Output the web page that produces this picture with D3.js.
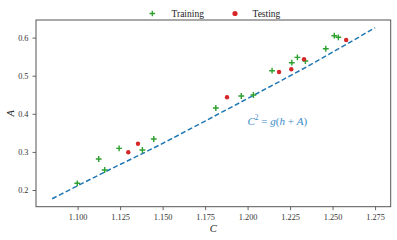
<!DOCTYPE html>
<html><head><meta charset="utf-8">
<script src="https://cdn.jsdelivr.net/npm/d3@7"></script>
<style>
html,body{margin:0;padding:0;background:#fff;}
svg{display:block;}
text{font-family:"Liberation Serif","DejaVu Serif",serif;}
</style></head>
<body>
<svg id="chart" width="397" height="240"></svg>
<script>
// Training points
const trainC = [1.0998, 1.1124, 1.1159, 1.1244, 1.1381, 1.1448, 1.1813, 1.1963, 1.2034, 1.2144, 1.2260, 1.2293, 1.2340, 1.2460, 1.2510, 1.2534];
const trainA = [0.2176, 0.2814, 0.2525, 0.3094, 0.3050, 0.3339, 0.4152, 0.4467, 0.4493, 0.5131, 0.5341, 0.5480, 0.5386, 0.5708, 0.6050, 0.6008];
// Testing points
const testC = [1.1298, 1.1355, 1.1879, 1.2185, 1.2257, 1.2332, 1.2580];
const testA = [0.2990, 0.3215, 0.4433, 0.5097, 0.5168, 0.5430, 0.5937];
// Fitted curve C^2 = g(h + A)
const lineC = [1.085, 1.115, 1.145, 1.175, 1.205, 1.235, 1.275];
const lineA = [0.177, 0.245, 0.311, 0.381, 0.452, 0.524, 0.626];
const xTicks = [1.100, 1.125, 1.150, 1.175, 1.200, 1.225, 1.250, 1.275];
const yTicks = [0.2, 0.3, 0.4, 0.5, 0.6];
const legendLabels = ["Training", "Testing"];
// equation "C² = g(h + A)" as pieces: [text, italic, superscript]
const equationParts = [["C", true, false], ["2", false, true], [" = ", false, false], ["g", true, false],
  ["(", false, false], ["h", true, false], [" + ", false, false], ["A", true, false], [")", false, false]];

const svg = d3.select("#chart");
const L = 36, R = 390.7, T = 20, B = 206.7;
const x = d3.scaleLinear().domain([1.0755, 1.2842]).range([L, R]);
const y = d3.scaleLinear().domain([0.1562, 0.6462]).range([B, T]);

const green = "#2ca02c", red = "#d62728", blue = "#1f77b4", spine = "#555";

// frame
svg.append("rect").attr("x", L).attr("y", T).attr("width", R - L).attr("height", B - T)
  .attr("fill", "none").attr("stroke", spine).attr("stroke-width", 1);

// axes
const xAxis = svg.append("g").attr("transform", `translate(0,${B})`)
  .call(d3.axisBottom(x).tickValues(xTicks).tickFormat(d3.format(".3f")).tickSize(3.5).tickPadding(4));
const yAxis = svg.append("g").attr("transform", `translate(${L},0)`)
  .call(d3.axisLeft(y).tickValues(yTicks).tickFormat(d3.format(".1f")).tickSize(3.5).tickPadding(4));
[xAxis, yAxis].forEach(g => {
  g.select(".domain").remove();
  g.selectAll(".tick line").attr("stroke", spine).attr("stroke-width", 0.9);
  g.selectAll(".tick text").attr("fill", "#333").style("font-size", "8.3px")
    .style("font-family", "'Liberation Serif','DejaVu Serif',serif");
});

// axis labels
svg.append("text").attr("x", (L + R) / 2).attr("y", 232).attr("text-anchor", "middle")
  .style("font-size", "10.5px").style("font-style", "italic").attr("fill", "#222").text("C");
svg.append("text").attr("transform", `translate(14,${(T + B) / 2}) rotate(-90)`).attr("text-anchor", "middle")
  .style("font-size", "10.5px").style("font-style", "italic").attr("fill", "#222").text("A");

// fitted line
const line = d3.line().x((d, i) => x(lineC[i])).y((d, i) => y(lineA[i])).curve(d3.curveMonotoneX);
svg.append("path").datum(lineC).attr("d", line).attr("fill", "none")
  .attr("stroke", blue).attr("stroke-width", 1.5).attr("stroke-dasharray", "5,2.6");

// training crosses
const cs = 2.9;
const tr = svg.append("g");
trainC.forEach((c, i) => {
  const cx = x(c), cy = y(trainA[i]);
  tr.append("path").attr("d", `M${cx - cs},${cy}H${cx + cs}M${cx},${cy - cs}V${cy + cs}`)
    .attr("stroke", green).attr("stroke-width", 1.4).attr("fill", "none");
});
// testing dots
svg.append("g").selectAll("circle").data(testC).join("circle")
  .attr("cx", d => x(d)).attr("cy", (d, i) => y(testA[i])).attr("r", 2.2).attr("fill", red);

// equation label
const eq = svg.append("text").attr("x", 247.5).attr("y", 124.5).attr("fill", "#3a8bc8")
  .style("font-size", "11px").style("white-space", "pre");
equationParts.forEach(([t, it, sup], i) => {
  const ts = eq.append("tspan").text(t).style("font-style", it ? "italic" : "normal");
  if (sup) ts.style("font-size", "7.5px").attr("dy", -4.5);
  else if (i > 0 && equationParts[i - 1][2]) ts.attr("dy", 4.5);
});

// legend
const lg = svg.append("g");
const lx = 152.3, ly = 13.5;
lg.append("path").attr("d", `M${lx - 2.8},${ly}H${lx + 2.8}M${lx},${ly - 2.8}V${ly + 2.8}`)
  .attr("stroke", green).attr("stroke-width", 1.3);
lg.append("text").attr("x", 171.5).attr("y", 17).style("font-size", "9.5px").attr("fill", "#222").text(legendLabels[0]);
lg.append("circle").attr("cx", 235).attr("cy", ly).attr("r", 2.6).attr("fill", red);
lg.append("text").attr("x", 252.5).attr("y", 17).style("font-size", "9.5px").attr("fill", "#222").text(legendLabels[1]);
</script>
</body></html>
